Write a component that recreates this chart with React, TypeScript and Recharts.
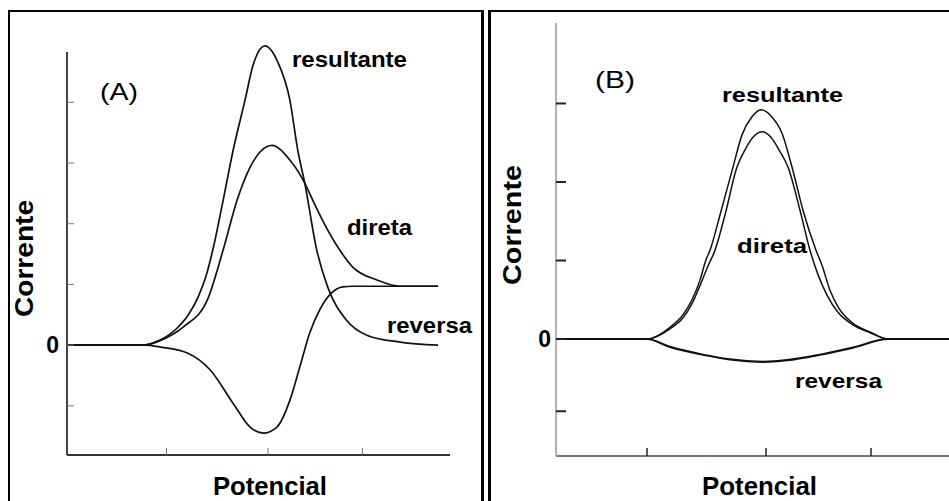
import React from 'react';
import { LineChart, Line, XAxis, YAxis, ReferenceLine } from 'recharts';

// ---------- Panel A data ----------
const resultanteA = [
  [0, 0], [0.76, 0], [0.93, 0.08], [1.1, 0.27], [1.22, 0.5], [1.32, 0.8], [1.4, 1.15],
  [1.47, 1.6], [1.57, 2.39], [1.67, 3.21], [1.79, 4.04], [1.87, 4.61], [1.99, 4.93], [2.12, 4.66],
  [2.24, 4.04], [2.32, 3.21], [2.39, 2.67], [2.51, 1.57], [2.62, 0.96], [2.81, 0.41],
  [3.02, 0.16], [3.35, 0.05], [3.73, 0],
];
const diretaA = [
  [0, 0], [0.76, 0], [0.93, 0.07], [1.17, 0.3], [1.41, 0.74], [1.57, 1.57], [1.71, 2.39],
  [1.84, 2.93], [2.06, 3.29], [2.24, 3.05], [2.39, 2.67], [2.47, 2.39], [2.59, 1.99],
  [2.74, 1.57], [2.87, 1.29], [3.12, 1.07], [3.35, 0.97], [3.73, 0.97],
];
const reversaA = [
  [0, 0], [0.8, 0], [0.93, -0.03], [1.21, -0.13], [1.44, -0.41], [1.67, -0.96], [1.84, -1.35],
  [1.97, -1.45], [2.11, -1.35], [2.24, -0.91], [2.34, -0.36], [2.44, 0.2], [2.54, 0.58],
  [2.66, 0.86], [2.77, 0.96], [2.87, 0.97], [3.73, 0.97],
];
const xTicksA = [1.0, 2.02, 2.97];
const yTicksA = [-1, 0, 1, 2, 3, 4];

// ---------- Panel B data ----------
const resultanteB = [
  [0, 0], [0.91, 0], [1.14, 0.15], [1.27, 0.31], [1.36, 0.5], [1.44, 0.75], [1.5, 1.01],
  [1.54, 1.13], [1.64, 1.58], [1.77, 2.19], [1.86, 2.6], [1.96, 2.83], [2.05, 2.92],
  [2.15, 2.84], [2.26, 2.62], [2.36, 2.19], [2.47, 1.64], [2.6, 1.13], [2.66, 0.94],
  [2.74, 0.62], [2.82, 0.41], [2.97, 0.2], [3.14, 0.09], [3.32, 0], [4.04, 0],
];
const diretaB = [
  [0, 0], [0.91, 0], [1.14, 0.13], [1.27, 0.27], [1.36, 0.45], [1.44, 0.68], [1.52, 0.93],
  [1.59, 1.13], [1.69, 1.58], [1.81, 2.19], [1.89, 2.41], [1.97, 2.57], [2.06, 2.64],
  [2.15, 2.57], [2.23, 2.41], [2.32, 2.19], [2.44, 1.64], [2.54, 1.13], [2.62, 0.82],
  [2.71, 0.56], [2.82, 0.34], [2.97, 0.18], [3.14, 0.08], [3.32, 0], [4.04, 0],
];
const reversaB = [
  [0, 0], [0.91, 0], [1.14, -0.1], [1.47, -0.2], [1.81, -0.27], [2.07, -0.29], [2.31, -0.27],
  [2.64, -0.2], [2.97, -0.11], [3.32, 0], [4.04, 0],
];
const xTicksB = [0.91, 2.1, 3.15];
const yTicksB = [-0.92, 0, 1, 2, 3];

const toPts = (a: number[][]) => a.map(([x, y]) => ({ x, y }));

const FONT = '"Liberation Sans", Arial, Helvetica, sans-serif';

const makeYTick = (len: number, color: string, width: number, labelDx: number, labelDy: number, fs: number) =>
  (props: any) => {
    const { x, y, payload } = props;
    return (
      <g>
        <line x1={x} y1={y} x2={x + len} y2={y} stroke={color} strokeWidth={width} />
        {payload.value === 0 ? (
          <text x={x - labelDx} y={y + labelDy} textAnchor="end" fontFamily={FONT} fontWeight="bold" fontSize={fs} fill="#000">
            0
          </text>
        ) : null}
      </g>
    );
  };

const makeXTick = (len: number, color: string, width: number) => (props: any) => {
  const { x, y } = props;
  return <line x1={x} y1={y} x2={x} y2={y - len} stroke={color} strokeWidth={width} />;
};

function ChartA() {
  return (
    <LineChart width={480} height={501} margin={{ top: 42, right: 30, bottom: 16, left: 37 }}>
      <XAxis
        type="number"
        dataKey="x"
        domain={[0, 3.85]}
        ticks={xTicksA}
        interval={0}
        height={30}
        tickSize={0}
        tickMargin={0}
        tickLine={false}
        tick={makeXTick(7, '#777', 1)}
        axisLine={{ stroke: '#333', strokeWidth: 2 }}
      />
      <YAxis
        type="number"
        dataKey="y"
        domain={[-1.81, 4.994]}
        ticks={yTicksA}
        interval={0}
        width={30}
        tickSize={0}
        tickMargin={0}
        tickLine={false}
        tick={makeYTick(7, '#777', 1, 8, 8, 23)}
        axisLine={false}
      />
      <ReferenceLine
        segment={[{ x: 0, y: -1.81 }, { x: 0, y: 4.83 }]}
        stroke="#444"
        strokeWidth={2}
      />
      <Line data={toPts(reversaA)} dataKey="y" type="monotone" stroke="#111" strokeWidth={1.7} dot={false} activeDot={false} isAnimationActive={false} />
      <Line data={toPts(diretaA)} dataKey="y" type="monotone" stroke="#111" strokeWidth={1.7} dot={false} activeDot={false} isAnimationActive={false} />
      <Line data={toPts(resultanteA)} dataKey="y" type="monotone" stroke="#111" strokeWidth={1.7} dot={false} activeDot={false} isAnimationActive={false} />
    </LineChart>
  );
}

function ChartB() {
  return (
    <LineChart width={490} height={501} margin={{ top: 23, right: 10, bottom: 15, left: 46 }}>
      <XAxis
        type="number"
        dataKey="x"
        domain={[0, 4.04]}
        ticks={xTicksB}
        interval={0}
        height={30}
        tickSize={0}
        tickMargin={0}
        tickLine={false}
        tick={makeXTick(8, '#222', 1.5)}
        axisLine={{ stroke: '#777', strokeWidth: 2 }}
      />
      <YAxis
        type="number"
        dataKey="y"
        domain={[-1.49, 4.025]}
        ticks={yTicksB}
        interval={0}
        width={30}
        tickSize={0}
        tickMargin={0}
        tickLine={false}
        tick={makeYTick(10, '#222', 2, 5, 8, 23)}
        axisLine={{ stroke: '#999', strokeWidth: 1.5 }}
      />
      <Line data={toPts(reversaB)} dataKey="y" type="monotone" stroke="#111" strokeWidth={2.2} dot={false} activeDot={false} isAnimationActive={false} />
      <Line data={toPts(diretaB)} dataKey="y" type="monotone" stroke="#111" strokeWidth={1.5} dot={false} activeDot={false} isAnimationActive={false} />
      <Line data={toPts(resultanteB)} dataKey="y" type="monotone" stroke="#111" strokeWidth={1.5} dot={false} activeDot={false} isAnimationActive={false} />
    </LineChart>
  );
}

function Labels() {
  const bold = { fontFamily: FONT, fontWeight: 'bold' as const, fill: '#000' };
  const reg = { fontFamily: FONT, fill: '#000' };
  return (
    <svg width={949} height={501} style={{ position: 'absolute', left: 0, top: 0, pointerEvents: 'none' }}>
      {/* Panel A */}
      <text x={100} y={100} fontSize={24} textLength={38} lengthAdjust="spacingAndGlyphs" {...reg}>(A)</text>
      <text x={292} y={67} fontSize={22} textLength={115} lengthAdjust="spacingAndGlyphs" {...bold}>resultante</text>
      <text x={347} y={235} fontSize={22} textLength={65} lengthAdjust="spacingAndGlyphs" {...bold}>direta</text>
      <text x={387} y={333} fontSize={22} textLength={85} lengthAdjust="spacingAndGlyphs" {...bold}>reversa</text>
      <text transform="translate(33,258.5) rotate(-90)" textAnchor="middle" fontSize={25} textLength={117} lengthAdjust="spacingAndGlyphs" {...bold}>Corrente</text>
      <text x={213} y={495} fontSize={26} textLength={114} lengthAdjust="spacingAndGlyphs" {...bold}>Potencial</text>
      {/* Panel B */}
      <text x={595} y={88} fontSize={24} textLength={40} lengthAdjust="spacingAndGlyphs" {...reg}>(B)</text>
      <text x={722} y={102} fontSize={20} textLength={121} lengthAdjust="spacingAndGlyphs" {...bold}>resultante</text>
      <text x={737} y={253} fontSize={20} textLength={70} lengthAdjust="spacingAndGlyphs" {...bold}>direta</text>
      <text x={795} y={388} fontSize={21} textLength={87} lengthAdjust="spacingAndGlyphs" {...bold}>reversa</text>
      <text transform="translate(521,225) rotate(-90)" textAnchor="middle" fontSize={25} textLength={120} lengthAdjust="spacingAndGlyphs" {...bold}>Corrente</text>
      <text x={702} y={495} fontSize={26} textLength={115} lengthAdjust="spacingAndGlyphs" {...bold}>Potencial</text>
    </svg>
  );
}

export default function App() {
  return (
    <div style={{ position: 'fixed', left: 0, top: 0, width: 949, height: 501, overflow: 'hidden', background: '#fff' }}>
      <div style={{ position: 'absolute', left: 8, top: 10, width: 476, height: 600, boxSizing: 'border-box', borderTop: '2px solid #000', borderLeft: '2px solid #000', borderRight: '3px solid #000' }} />
      <div style={{ position: 'absolute', left: 488, top: 10, width: 600, height: 600, boxSizing: 'border-box', borderTop: '2px solid #000', borderLeft: '3px solid #000' }} />
      <div style={{ position: 'absolute', left: 0, top: 0 }}>
        <ChartA />
      </div>
      <div style={{ position: 'absolute', left: 480, top: 0 }}>
        <ChartB />
      </div>
      <Labels />
    </div>
  );
}
